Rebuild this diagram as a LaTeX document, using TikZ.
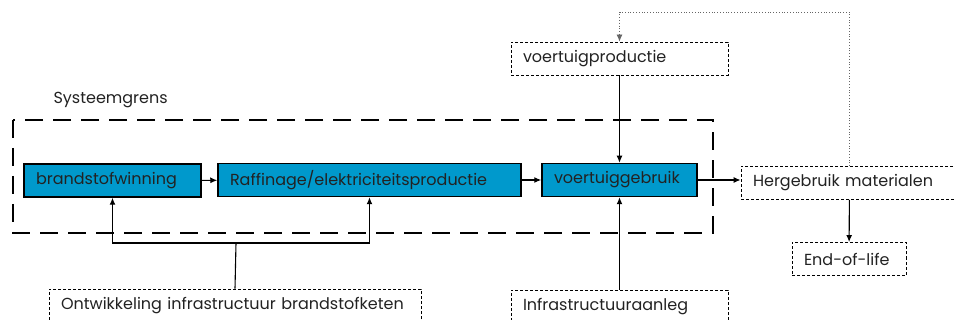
\documentclass[tikz,border=0pt]{standalone}
\usepackage{fontspec}
\setmainfont{Poppins}
\usetikzlibrary{arrows.meta, positioning}
\definecolor{Proces}{RGB}{0,153,204}
\definecolor{Tekst}{RGB}{34,34,34}

\begin{document}
\begin{tikzpicture}[x=1pt, y={(0pt,-1pt)},
    every node/.style={font=\fontsize{16}{18}\selectfont, text=Tekst},
    kern/.style={draw, line width=1.5pt, fill=Proces, minimum height=33pt, inner xsep=12pt, inner ysep=0pt, align=left},
    extern/.style={draw, line width=0.9pt, dash pattern=on 3pt off 2pt, minimum height=33pt, inner xsep=12pt, inner ysep=0pt, align=left},
    grenslijn/.style={line width=2.6pt, dash pattern=on 18pt off 10pt},
    pijl/.style={-{Latex[length=7pt, width=6pt]}, line width=1.1pt},
    lijn/.style={line width=1.1pt},
    terug/.style={-{Latex[length=7pt, width=6pt]}, line width=0.8pt, dotted, gray!80!black}]
    \useasboundingbox (0,0) rectangle (955,320);
    \clip (0,0) rectangle (955,320);

    % systeemgrens
    \draw[grenslijn] (13,120) rectangle (713,233);
    \node[anchor=west] (grens) at (50,100) {Systeemgrens};

    % processen binnen de grens
    \node[kern, text width=153pt] (winning) at (112.5,180.5) {brandstofwinning};
    \node[kern, text width=279pt] (raffinage) at (369.5,180) {Raffinage/elektriciteitsproductie};
    \node[kern, text width=131pt] (gebruik) at (619.5,180) {voertuiggebruik};

    % processen buiten de grens
    \node[extern, text width=193pt] (productie) at (619.5,58.5) {voertuigproductie};
    \node[extern, text width=193pt] (hergebruik) at (849.5,183) {Hergebruik materialen};
    \node[extern, text width=90pt] (eol) at (849,259) {End-of-life};
    \node[extern, text width=193pt] (aanleg) at (619.5,306.5) {Infrastructuuraanleg};
    \node[extern, text width=348pt] (ontwikkeling) at (235,305.5) {Ontwikkeling infrastructuur brandstofketen};

    % hulppunten
    \coordinate (splits) at (236,243);
    \coordinate (lus) at (619.5,12);

    % verbindingen
    \draw[pijl] (winning) -- (raffinage);
    \draw[pijl] (raffinage) -- (gebruik);
    \draw[pijl] (gebruik.east) -- (gebruik.east -| hergebruik.west);
    \draw[pijl] (productie) -- (gebruik);
    \draw[pijl] (aanleg) -- (gebruik);
    \draw[pijl] (hergebruik) -- (eol);
    \draw[lijn] (ontwikkeling.north) -- (splits);
    \draw[pijl] (splits) -| (winning.south);
    \draw[pijl] (splits) -| (raffinage.south);
    \draw[terug] (hergebruik.north) |- (lus) -- (productie.north);
\end{tikzpicture}
\end{document}
